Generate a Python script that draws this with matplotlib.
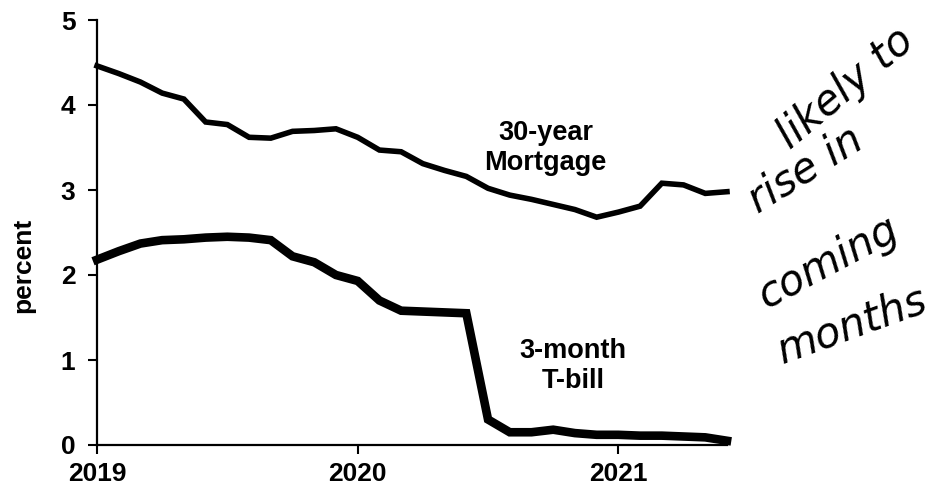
import matplotlib
matplotlib.use("Agg")
import matplotlib.pyplot as plt
import numpy as np

# Monthly data, Jan 2019 .. Jun 2021
months = np.arange(30)
mortgage = [4.46, 4.37, 4.27, 4.14, 4.07, 3.80, 3.77, 3.62, 3.61, 3.69, 3.70, 3.72,
            3.62, 3.47, 3.45, 3.31, 3.23, 3.16, 3.02, 2.94, 2.89, 2.83, 2.77, 2.68,
            2.74, 2.81, 3.08, 3.06, 2.96, 2.98]
tbill = [2.18, 2.28, 2.37, 2.41, 2.42, 2.44, 2.45, 2.44, 2.41, 2.22, 2.15, 2.00,
         1.93, 1.70, 1.58, 1.57, 1.56, 1.55, 0.30, 0.15, 0.15, 0.18, 0.14, 0.12,
         0.12, 0.11, 0.11, 0.10, 0.09, 0.05]
year_ticks = [0, 12, 24]
year_labels = ["2019", "2020", "2021"]
y_ticks = [0, 1, 2, 3, 4, 5]

plt.rcParams['font.family'] = ['Liberation Sans', 'DejaVu Sans']

fig = plt.figure(figsize=(9.43, 4.92), dpi=100)
ax = fig.add_axes([97/943, 1-445/492, (727-97)/943, (445-20)/492])

ax.plot(months, mortgage, color='black', lw=4.0, solid_joinstyle='miter', clip_on=False)
ax.plot(months, tbill, color='black', lw=6.2, solid_joinstyle='miter', clip_on=False)

ax.set_xlim(0, 29)
ax.set_ylim(0, 5)
ax.set_xticks(year_ticks)
ax.set_xticklabels(year_labels, fontsize=19, fontweight='bold')
ax.set_yticks(y_ticks)
ax.set_yticklabels([str(v) for v in y_ticks], fontsize=19, fontweight='bold')
ax.tick_params(axis='both', direction='out', length=6.5, width=1.5, pad=9)
ax.tick_params(axis='x', pad=6)
for s in ['top', 'right']:
    ax.spines[s].set_visible(False)
for s in ['left', 'bottom']:
    ax.spines[s].set_linewidth(1.6)

ax.set_ylabel("percent", fontsize=19, fontweight='bold')
ax.yaxis.set_label_coords(-(97-35)/630, (445-265)/425)

ax.text(20.65, 3.50, "30-year\nMortgage", ha='center', va='center', fontsize=19.5,
        fontweight='bold', linespacing=1.2)
ax.text(21.9, 0.93, "3-month\nT-bill", ha='center', va='center', fontsize=19.5,
        fontweight='bold', linespacing=1.2)

def ftext(x, y, s, rot, fs=30):
    fig.text(x/943, 1-y/492, s, rotation=rot, color='black', fontsize=fs,
             style='italic', family=['DejaVu Sans'], ha='center', va='center',
             rotation_mode='anchor')
ftext(845, 88, "likely to", 40)
ftext(805, 170, "rise in", 32)
ftext(828, 262, "coming", 28)
ftext(852, 325, "months", 20)

fig.savefig("out.png", dpi=100)
